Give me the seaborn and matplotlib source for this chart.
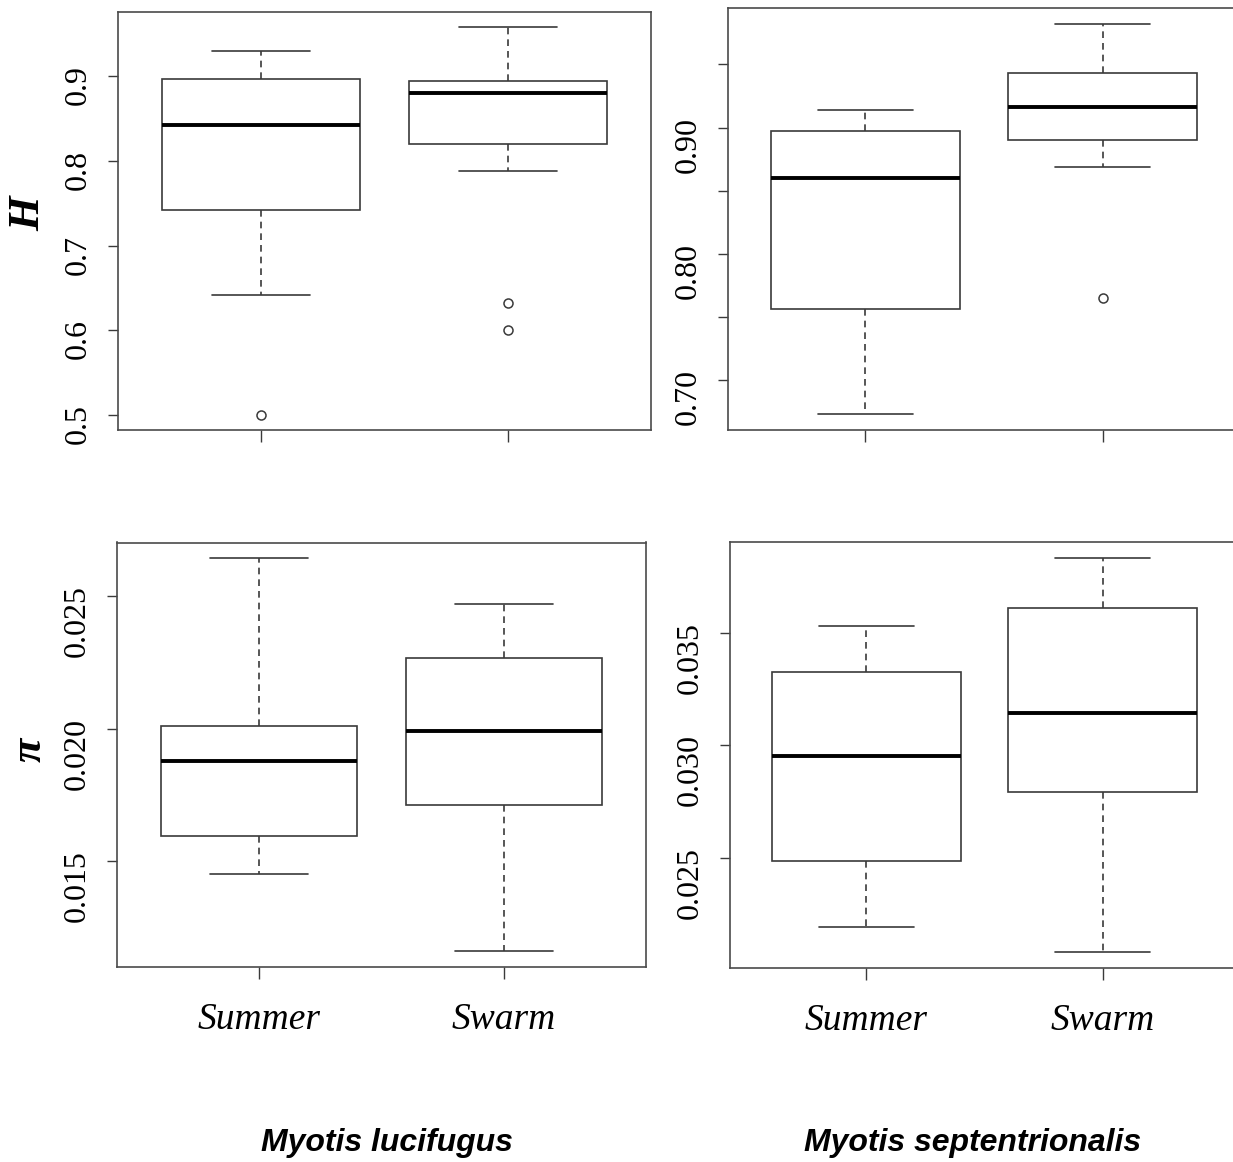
import pandas as pd
import seaborn as sns
import matplotlib.pyplot as plt

seasons = ["Summer", "Swarm"]

# five-number summaries: lower whisker, Q1, median, Q3, upper whisker
luc_h_summer = [0.641, 0.742, 0.843, 0.897, 0.930]
luc_h_swarm = [0.788, 0.820, 0.881, 0.895, 0.958]
sep_h_summer = [0.673, 0.756, 0.860, 0.897, 0.914]
sep_h_swarm = [0.869, 0.890, 0.916, 0.943, 0.982]
luc_pi_summer = [0.01450, 0.01593, 0.01876, 0.02008, 0.02643]
luc_pi_swarm = [0.01159, 0.01711, 0.01990, 0.02266, 0.02471]
sep_pi_summer = [0.02194, 0.02488, 0.02951, 0.03327, 0.03531]
sep_pi_swarm = [0.02083, 0.02791, 0.03142, 0.03611, 0.03831]

# outliers
luc_h_summer_out = [0.500]
luc_h_swarm_out = [0.600, 0.632]
sep_h_swarm_out = [0.765]

W, H = 1233, 1162
line = "#3a3a3a"


def make_df(summer, swarm, summer_out=(), swarm_out=()):
    # sample that reproduces the summary exactly once seaborn computes the quartiles
    rows = []
    for season, s, out in [("Summer", summer, summer_out), ("Swarm", swarm, swarm_out)]:
        lo, q1, med, q3, hi = s
        vals = [lo] + [q1] * 20 + [med] * 20 + [q3] * 20 + [hi] + list(out)
        rows += [(season, v) for v in vals]
    return pd.DataFrame(rows, columns=["season", "value"])


def px_box(l, r, t, b):
    return [l / W, 1 - b / H, (r - l) / W, (b - t) / H]


sns.set_style("white")
plt.rcParams["font.family"] = ["Liberation Serif", "DejaVu Serif"]
plt.rcParams["text.color"] = "black"
plt.rcParams["xtick.labelcolor"] = "black"
plt.rcParams["ytick.labelcolor"] = "black"

fig = plt.figure(figsize=(W / 100, H / 100), dpi=100)


def draw(pos, df, whis, yticks, yticklabels, show_x):
    ax = fig.add_axes(px_box(*pos))
    sns.boxplot(data=df, x="season", y="value", order=seasons, ax=ax,
                color="white", saturation=1, linecolor=line, linewidth=1.2,
                width=0.8, whis=whis, fliersize=6.5,
                medianprops=dict(color="black", linewidth=2.8),
                whiskerprops=dict(linestyle=(0, (4, 3))),
                flierprops=dict(marker="o", markerfacecolor="none",
                                markeredgecolor=line, markeredgewidth=1.1))
    # R style limits: data range padded by 4 %
    vmin, vmax = df["value"].min(), df["value"].max()
    pad = 0.04 * (vmax - vmin)
    ax.set_ylim(vmin - pad, vmax + pad)
    ax.set_xlim(-0.58, 1.58)
    ax.set_yticks(yticks)
    ax.set_yticklabels(yticklabels)
    ax.set_xlabel("")
    ax.set_ylabel("")
    for sp in ax.spines.values():
        sp.set_visible(True)
        sp.set_color("#4a4a4a")
        sp.set_linewidth(1.2)
    ax.tick_params(axis="y", direction="out", length=7, width=1, color=line,
                   labelsize=23, labelrotation=90, pad=11, left=True)
    ax.tick_params(axis="x", direction="out", length=8.5, width=1, color=line,
                   labelsize=27, pad=17, bottom=True, labelbottom=show_x)
    if show_x:
        for t in ax.get_xticklabels():
            t.set_fontstyle("italic")
    return ax


draw((118, 651, 12, 430), make_df(luc_h_summer, luc_h_swarm, luc_h_summer_out, luc_h_swarm_out),
     1.5, [0.5, 0.6, 0.7, 0.8, 0.9], ["0.5", "0.6", "0.7", "0.8", "0.9"], False)
draw((728, 1240, 8.3, 430), make_df(sep_h_summer, sep_h_swarm, (), sep_h_swarm_out),
     1.5, [0.70, 0.75, 0.80, 0.85, 0.90, 0.95], ["0.70", "", "0.80", "", "0.90", ""], False)
draw((116.5, 646, 542.5, 967), make_df(luc_pi_summer, luc_pi_swarm),
     (0, 100), [0.015, 0.020, 0.025], ["0.015", "0.020", "0.025"], True)
draw((729.5, 1239.5, 542.3, 967.7), make_df(sep_pi_summer, sep_pi_swarm),
     (0, 100), [0.025, 0.030, 0.035], ["0.025", "0.030", "0.035"], True)

# row labels
fig.text(28 / W, 1 - 214 / H, "H", rotation=90, ha="center", va="center",
         fontsize=32, fontweight="bold", fontstyle="italic")
fig.text(30 / W, 1 - 750 / H, "π", rotation=90, ha="center", va="center",
         fontsize=32, fontweight="bold", fontstyle="italic")

# species titles
fig.text(387 / W, 1 - 1143 / H, "Myotis lucifugus", ha="center", va="center",
         family=["Liberation Sans", "DejaVu Sans"], fontsize=23,
         fontweight="bold", fontstyle="italic")
fig.text(973 / W, 1 - 1143 / H, "Myotis septentrionalis", ha="center", va="center",
         family=["Liberation Sans", "DejaVu Sans"], fontsize=23,
         fontweight="bold", fontstyle="italic")

plt.savefig("out.png", dpi=100)
